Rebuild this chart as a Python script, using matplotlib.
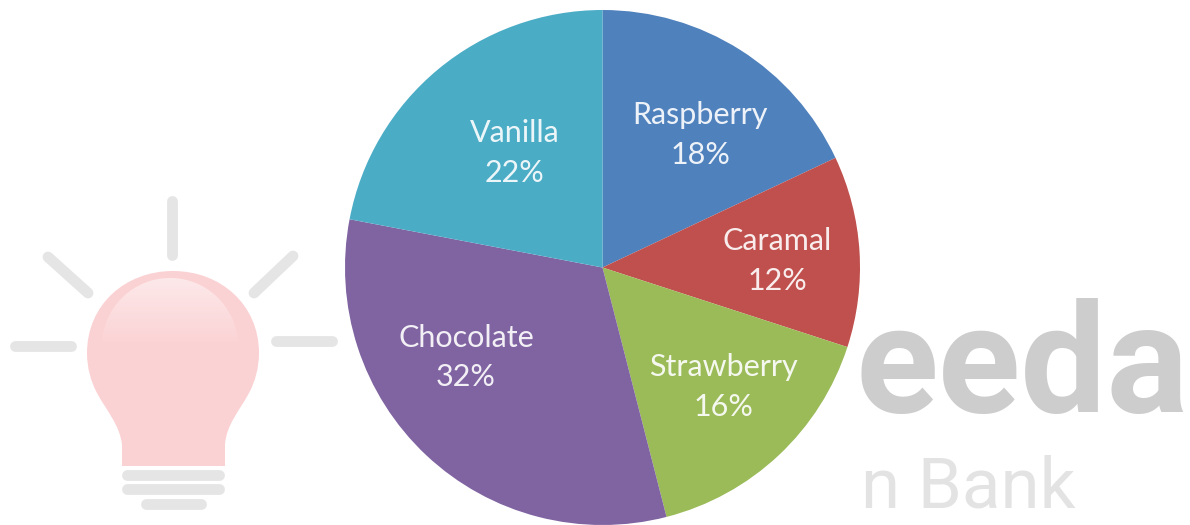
import numpy as np
import matplotlib
matplotlib.use("Agg")
import matplotlib.pyplot as plt
from matplotlib.path import Path
from matplotlib.patches import PathPatch

flavours = ["Raspberry", "Caramal", "Strawberry", "Chocolate", "Vanilla"]
shares = [18, 12, 16, 32, 22]
colours = ["#4F81BD", "#C0504D", "#9BBB59", "#8064A2", "#4BACC6"]

W, H = 1190, 525
fig = plt.figure(figsize=(W / 100, H / 100), dpi=100, facecolor="white")

# ---- watermark layer in pixel coordinates ----
bg = fig.add_axes([0, 0, 1, 1], zorder=0)
bg.set_xlim(0, W)
bg.set_ylim(H, 0)
bg.axis("off")

GREY = "#E5E5E5"
rays = [((172, 201), (172, 255)), ((48, 257), (88, 293)), ((293, 256), (254, 293)),
        ((15, 346), (71, 346)), ((276, 341), (332, 341)),
        ((127, 475), (219, 475)), ((127, 489), (219, 489)), ((146, 504), (201, 504))]
for (x0, y0), (x1, y1) in rays:
    bg.plot([x0, x1], [y0, y1], color=GREY, lw=7.8, solid_capstyle="round")

verts = [(122, 466), (122, 445),
         (120, 425), (106, 410), (97, 393),
         (91, 382), (87, 368), (87, 353),
         (87, 305), (125, 271), (173, 271),
         (221, 271), (259, 305), (259, 353),
         (259, 368), (255, 382), (249, 393),
         (240, 410), (226, 425), (225, 445),
         (225, 466), (122, 466)]
codes = [Path.MOVETO, Path.LINETO,
         Path.CURVE4, Path.CURVE4, Path.CURVE4,
         Path.CURVE4, Path.CURVE4, Path.CURVE4,
         Path.CURVE4, Path.CURVE4, Path.CURVE4,
         Path.CURVE4, Path.CURVE4, Path.CURVE4,
         Path.CURVE4, Path.CURVE4, Path.CURVE4,
         Path.CURVE4, Path.CURVE4, Path.CURVE4,
         Path.LINETO, Path.CLOSEPOLY]
bg.add_patch(PathPatch(Path(verts, codes), facecolor="#FBD2D4", edgecolor="none"))

# glossy highlight on the bulb
rgba = np.ones((64, 1, 4))
rgba[:, 0, 3] = np.linspace(0.5, 0.04, 64)
im = bg.imshow(rgba, extent=(100, 240, 342, 278), aspect="auto", zorder=3, interpolation="bilinear")
hl_t = np.linspace(np.pi, 2 * np.pi, 60)
hl_x = np.r_[102, 170 + 68 * np.cos(hl_t), 238]
hl_y = np.r_[342, 346 + 68 * np.sin(hl_t), 342]
im.set_clip_path(PathPatch(Path(np.c_[hl_x, hl_y]), transform=bg.transData))
bg.set_xlim(0, W)
bg.set_ylim(H, 0)

bg.text(1189, 413, "eeda", family="Roboto", weight="bold", fontsize=110, color="#CDCDCD",
        ha="right", va="baseline", zorder=2)
bg.text(861, 507, "n Bank", family="Roboto", fontsize=51, color="#E3E3E3",
        ha="left", va="baseline", zorder=2)

# ---- pie ----
ax = fig.add_axes([345 / W, 0, 515 / W, 515 / H], zorder=1)
ax.patch.set_alpha(0)
wedges, _ = ax.pie(shares, colors=colours, startangle=90, counterclock=False, radius=1,
                   wedgeprops={"edgecolor": "none"})
ax.set_xlim(-1, 1)
ax.set_ylim(-1, 1)
ax.set_aspect("equal")

# label centres, in pie radii from the centre
label_offsets = [(0.38, 0.515), (0.68, 0.025), (0.47, -0.465), (-0.53, -0.35), (-0.34, 0.445)]
for name, share, (ox, oy) in zip(flavours, shares, label_offsets):
    ax.text(ox, oy, f"{name}\n{share}%", ha="center", va="center", color="white",
            family="Lato", fontsize=22, linespacing=1.5, alpha=0.9)

fig.savefig("out.png", dpi=100)
